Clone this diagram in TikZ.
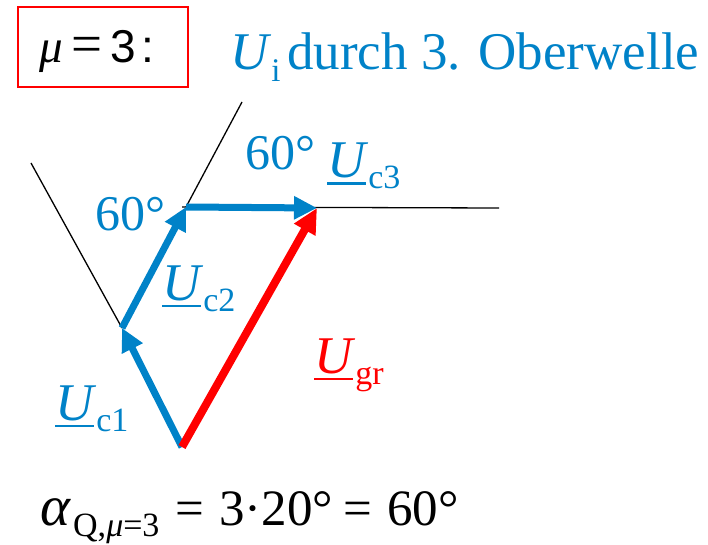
\documentclass[tikz,border=0pt]{standalone}
\usepackage{fontspec}
\setmainfont{Liberation Serif}
\newfontfamily\arialf{Liberation Sans}
\usetikzlibrary{arrows.meta}
\definecolor{pblue}{RGB}{0,130,200}
\definecolor{pred}{RGB}{255,0,0}
\newcommand{\subsz}{\fontsize{34}{34}\selectfont}
\newcommand{\phasorU}[1]{\makebox[0pt][l]{\rule[-7pt]{0.74em}{2.5pt}}\textit{U}\raisebox{-11pt}{\subsz #1}}
\newcommand{\at}[2]{\makebox[#1][l]{#2}}
\begin{document}
\begin{tikzpicture}[x=1pt,y=-1pt,
  txt/.style={inner sep=0pt,anchor=base west,font=\fontsize{53}{60}\selectfont},
  refline/.style={draw=black,line width=1.3pt},
  bluearrow/.style={draw=pblue,line width=7pt,-{Triangle[length=23pt,width=22pt]}},
  redarrow/.style={draw=pred,line width=8pt,-{Triangle[length=25pt,width=23pt]}}]
\useasboundingbox (0,0) rectangle (708,545);
% points
\coordinate (O) at (182,447);
\coordinate (P1) at (122,328);
\coordinate (P2) at (186,207);
\coordinate (P3) at (317,208);
\coordinate (L1) at (31,163);
\coordinate (L2) at (242,102);
\coordinate (L2s) at (182,207);
\coordinate (L3) at (499,208);
% reference lines
\draw[refline] (P1) -- (L1);
\draw[refline] (P2) -- (L2);
\draw[refline] (L2s) -- (L3);
% phasors
\draw[bluearrow] (O) -- (P1);
\draw[bluearrow] (P1) -- (P2);
\draw[bluearrow] (P2) -- (P3);
\draw[redarrow] (O) -- (P3);
% header
\node[draw=pred,line width=1.5pt,minimum width=170pt,minimum height=80pt,inner sep=0pt] (box) at (103,47) {};
\node[txt,font=\fontsize{47}{56}\selectfont] (mu) at (39,63)
  {\at{32pt}{\textit{μ}}\at{39pt}{\fontsize{55}{57}\selectfont =}\at{31pt}{\arialf\fontsize{46}{50}\selectfont 3}{\arialf\fontsize{46}{50}\selectfont :}};
\node[txt,text=pblue,font=\fontsize{53}{60}\selectfont] (title) at (230,70)
  {\at{57pt}{\textit{U}\raisebox{-12pt}{\fontsize{33}{33}\selectfont i}}durch 3. Oberwelle};
% labels
\node[txt,text=pblue,font=\fontsize{50}{56}\selectfont] (a1) at (95,230) {60°};
\node[txt,text=pblue,font=\fontsize{50}{56}\selectfont] (a2) at (245,170) {60°};
\node[txt,text=pblue] (uc1) at (55,420) {\phasorU{c1}};
\node[txt,text=pblue] (uc2) at (162,300) {\phasorU{c2}};
\node[txt,text=pblue] (uc3) at (327,178) {\phasorU{c3}};
\node[txt,text=pred] (ugr) at (314,373) {\phasorU{gr}};
% formula
\node[txt,font=\fontsize{51}{56}\selectfont] (form) at (40,525)
  {\at{33pt}{\fontsize{57}{57}\selectfont\textit{α}}\at{102pt}{\raisebox{-11pt}{\subsz Q,\textit{μ}=3}}\at{44pt}{=}\at{124pt}{3·20°}\at{44pt}{=}60°};
\end{tikzpicture}
\end{document}
